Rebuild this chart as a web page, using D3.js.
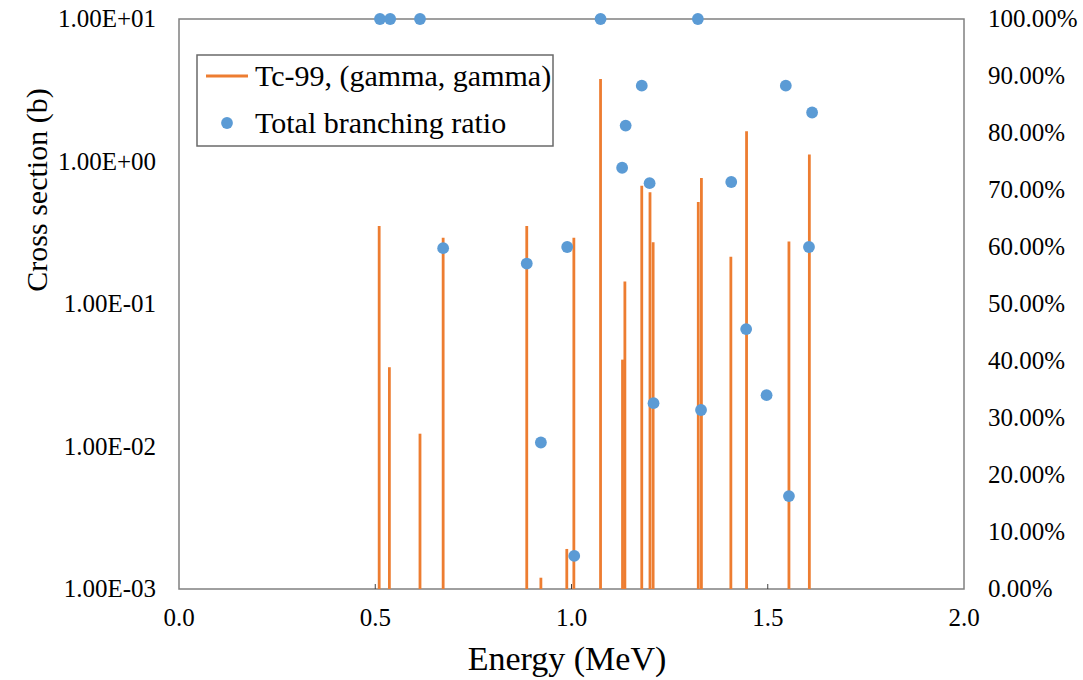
<!DOCTYPE html>
<html>
<head>
<meta charset="utf-8">
<script src="https://cdn.jsdelivr.net/npm/d3@7"></script>
<style>
  html, body { margin: 0; padding: 0; background: #fff; }
  svg { display: block; }
</style>
</head>
<body>
<svg id="chart" width="1083" height="680"></svg>
<script>
// Tc-99 (gamma, gamma) cross section lines
const lineEnergy = [0.510, 0.536, 0.614, 0.673, 0.886, 0.922, 0.988, 1.006, 1.074, 1.130,
                    1.136, 1.179, 1.200, 1.208, 1.323, 1.331, 1.406, 1.446, 1.554, 1.606];
const crossSection = [0.352, 0.036, 0.0123, 0.292, 0.352, 0.0012, 0.00191, 0.292, 3.80, 0.0407,
                      0.144, 0.675, 0.608, 0.271, 0.52, 0.766, 0.215, 1.63, 0.275, 1.12];
// Total branching ratio points (%)
const dotEnergy = [0.512, 0.538, 0.614, 1.074, 1.322, 0.673, 0.886, 0.922, 0.989, 1.007,
                   1.129, 1.138, 1.179, 1.199, 1.209, 1.330, 1.407, 1.445, 1.497, 1.546,
                   1.554, 1.613, 1.605];
const branchingRatio = [100, 100, 100, 100, 100, 59.8, 57.1, 25.7, 60.0, 5.8,
                        73.9, 81.3, 88.3, 71.2, 32.6, 31.4, 71.4, 45.6, 34.0, 88.3,
                        16.3, 83.6, 60.0];
const xTicks = [0, 0.5, 1.0, 1.5, 2.0];
const yTicks = [1e-3, 1e-2, 1e-1, 1e0, 1e1];
const yTickLabels = ["1.00E-03", "1.00E-02", "1.00E-01", "1.00E+00", "1.00E+01"];
const y2Ticks = [0, 10, 20, 30, 40, 50, 60, 70, 80, 90, 100];
const seriesNames = ["Tc-99, (gamma, gamma)", "Total branching ratio"];

const FONT = "Liberation Serif";
const svg = d3.select("#chart");
const L = 179, R = 964, T = 19, B = 589;
const orange = "#ED7D31", blue = "#5B9BD5", axisCol = "#808080";

const x = d3.scaleLinear().domain([0, 2]).range([L, R]);
const y = d3.scaleLog().domain([1e-3, 1e1]).range([B, T]);
const y2 = d3.scaleLinear().domain([0, 100]).range([B, T]);

svg.append("rect").attr("width", 1083).attr("height", 680).attr("fill", "#fff");

// frame
svg.append("rect").attr("x", L).attr("y", T).attr("width", R - L).attr("height", B - T)
  .attr("fill", "none").attr("stroke", axisCol).attr("stroke-width", 1.5);

// x ticks (inside)
svg.append("g").selectAll("line").data(xTicks.slice(1, -1)).join("line")
  .attr("x1", d => x(d)).attr("x2", d => x(d)).attr("y1", B).attr("y2", B - 5)
  .attr("stroke", "#404040").attr("stroke-width", 1);

// x tick labels
svg.append("g").selectAll("text").data(xTicks).join("text")
  .attr("x", d => x(d)).attr("y", B + 37).attr("text-anchor", "middle")
  .attr("font-family", FONT).attr("font-size", 25).attr("fill", "#000")
  .text(d => d.toFixed(1));

// y tick labels
svg.append("g").selectAll("text").data(yTicks).join("text")
  .attr("x", 156).attr("y", d => y(d)).attr("dy", "0.33em").attr("text-anchor", "end")
  .attr("font-family", FONT).attr("font-size", 25).attr("fill", "#000")
  .text((d, i) => yTickLabels[i]);

// y2 tick labels
svg.append("g").selectAll("text").data(y2Ticks).join("text")
  .attr("x", 988).attr("y", d => y2(d)).attr("dy", "0.33em").attr("text-anchor", "start")
  .attr("font-family", FONT).attr("font-size", 25).attr("fill", "#000")
  .text(d => d.toFixed(2) + "%");

// axis titles
svg.append("text").attr("transform", "translate(47,190) rotate(-90)")
  .attr("text-anchor", "middle").attr("font-family", FONT).attr("font-size", 30)
  .attr("fill", "#000").text("Cross section (b)");
svg.append("text").attr("x", 567).attr("y", 670).attr("text-anchor", "middle")
  .attr("font-family", FONT).attr("font-size", 34).attr("fill", "#000")
  .text("Energy (MeV)");

// lines
const lineData = lineEnergy.map((e, i) => ({ e, v: crossSection[i] }));
svg.append("g").selectAll("line").data(lineData).join("line")
  .attr("x1", d => x(d.e)).attr("x2", d => x(d.e))
  .attr("y1", y(1e-3)).attr("y2", d => y(d.v))
  .attr("stroke", orange).attr("stroke-width", 2.8);

// dots
const dotData = dotEnergy.map((e, i) => ({ e, v: branchingRatio[i] }));
svg.append("g").selectAll("circle").data(dotData).join("circle")
  .attr("cx", d => x(d.e)).attr("cy", d => y2(d.v)).attr("r", 5.9)
  .attr("fill", blue);

// legend
const lg = svg.append("g");
lg.append("rect").attr("x", 197).attr("y", 55).attr("width", 356).attr("height", 91)
  .attr("fill", "#fff").attr("stroke", "#6a6a6a").attr("stroke-width", 1.5);
lg.append("line").attr("x1", 206).attr("x2", 248).attr("y1", 76).attr("y2", 76)
  .attr("stroke", orange).attr("stroke-width", 2.8);
lg.append("circle").attr("cx", 227).attr("cy", 123).attr("r", 5.9).attr("fill", blue);
lg.append("text").attr("x", 255).attr("y", 76).attr("dy", "0.33em")
  .attr("font-family", FONT).attr("font-size", 30).attr("fill", "#000").text(seriesNames[0]);
lg.append("text").attr("x", 255).attr("y", 123).attr("dy", "0.33em")
  .attr("font-family", FONT).attr("font-size", 30).attr("fill", "#000").text(seriesNames[1]);
</script>
</body>
</html>
